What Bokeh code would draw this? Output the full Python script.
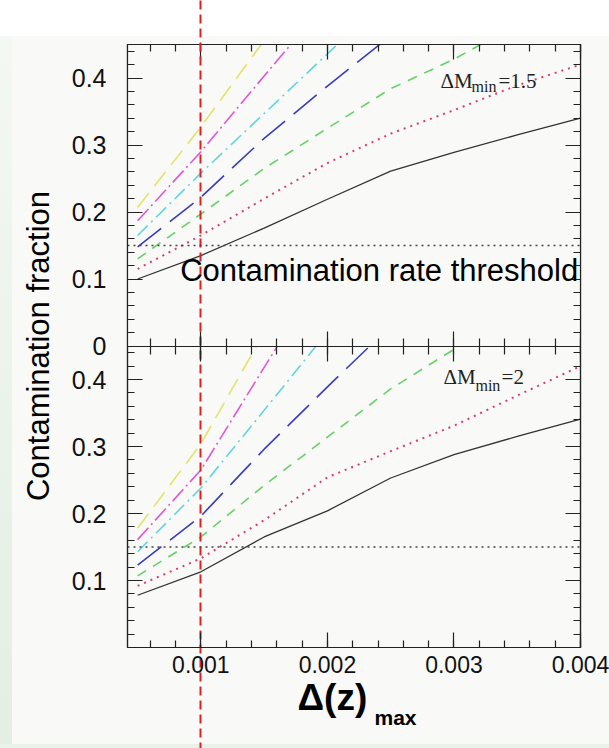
import numpy as np
from bokeh.plotting import figure
from bokeh.models import (Range1d, LinearAxis, FixedTicker, CustomJSTickFormatter,
                          Span, Label, Title)
from bokeh.embed import file_html
from bokeh.resources import INLINE

# ---------------- data ----------------
DZ_MAX = [0.0005, 0.001, 0.0015, 0.002, 0.0025, 0.003, 0.0035, 0.004]

# upper panel: dM_min = 1.5
TOP_BLACK   = [0.100, 0.135, 0.176, 0.219, 0.261, 0.289, 0.315, 0.340]
TOP_RED     = [0.115, 0.165, 0.220, 0.273, 0.317, 0.352, 0.389, 0.420]
TOP_GREEN   = [0.130, 0.197, 0.265, 0.325, 0.384, 0.428, 0.480]
TOP_BLUE    = [0.148, 0.222, 0.310, 0.388, 0.463]
TOP_CYAN    = [0.165, 0.258, 0.347, 0.436, 0.525]
TOP_MAGENTA = [0.187, 0.290, 0.403, 0.515]
TOP_YELLOW  = [0.207, 0.327, 0.456]

# lower panel: dM_min = 2
BOT_BLACK   = [0.078, 0.113, 0.165, 0.204, 0.253, 0.288, 0.315, 0.341]
BOT_RED     = [0.092, 0.133, 0.190, 0.254, 0.293, 0.331, 0.376, 0.420]
BOT_GREEN   = [0.107, 0.165, 0.242, 0.314, 0.386, 0.445, 0.490]
BOT_BLUE    = [0.123, 0.196, 0.296, 0.389, 0.480]
BOT_CYAN    = [0.143, 0.238, 0.354, 0.471]
BOT_MAGENTA = [0.161, 0.265, 0.418, 0.570]
BOT_YELLOW  = [0.178, 0.304, 0.470]

THRESHOLD = 0.15
REF_DZ = [0.001]

X_TICKS = [0.001, 0.002, 0.003, 0.004]
X_TICK_LABELS = ["0.001", "0.002", "0.003", "0.004"]
Y_TICKS_TOP = [0.0, 0.1, 0.2, 0.3, 0.4]
Y_LABELS_TOP = ["0", "0.1", "0.2", "0.3", "0.4"]
Y_TICKS_BOT = [0.1, 0.2, 0.3, 0.4]
Y_LABELS_BOT = ["0.1", "0.2", "0.3", "0.4"]

TOP_LABEL = ["ΔM", "min", "=1.5"]
BOT_LABEL = ["ΔM", "min", "=2"]
THRESH_TEXT = "Contamination rate threshold"
Y_TITLE = "Contamination fraction"
X_TITLE = ["Δ(z)", "max"]

# ---------------- styles ----------------
STYLES = [  # colour, dash, width
    ("#333333", "solid", 1.3),
    ("#d8406a", "2 5", 2.0),
    ("#66d166", "10 8", 1.6),
    ("#3b3bbf", "30 11", 1.6),
    ("#5fd6df", "14 5 2 5", 1.6),
    ("#e055d8", "16 4 2 4", 1.6),
    ("#e3e36b", "18 9", 1.6),
]
TOP_SERIES = [TOP_BLACK, TOP_RED, TOP_GREEN, TOP_BLUE, TOP_CYAN, TOP_MAGENTA, TOP_YELLOW]
BOT_SERIES = [BOT_BLACK, BOT_RED, BOT_GREEN, BOT_BLUE, BOT_CYAN, BOT_MAGENTA, BOT_YELLOW]

BG = "#f9f9f7"
AX = "#222222"
SANS = "Liberation Sans"
SERIF = "Liberation Serif"

XMIN, XMAX = 0.00042, 0.004
YMAX = 0.45
W, H = 609, 748
BORDER_TOP, BORDER_BOTTOM = 44, 101

p = figure(width=W, height=H,
           x_range=Range1d(XMIN, XMAX), y_range=Range1d(0, 2 * YMAX),
           x_axis_location=None, y_axis_location=None,
           toolbar_location=None, output_backend="svg",
           min_border_left=127, min_border_right=29,
           min_border_top=BORDER_TOP, min_border_bottom=BORDER_BOTTOM,
           background_fill_color=BG, border_fill_color=None,
           outline_line_color=AX, outline_line_width=1.2)
p.styles = {
    "background": ("linear-gradient(#ffffff,#ffffff) top / 100% 36px no-repeat, "
                   "linear-gradient(#e8f2e8,#e8f2e8) bottom / 100% 4px no-repeat, "
                   "linear-gradient(to bottom, #f4f8f4, #e2efe2) left / 12px 100% no-repeat, "
                   f"{BG}")
}
p.extra_y_ranges = {"top": Range1d(-YMAX, YMAX)}
p.grid.visible = False

# lower panel series (default range: 0..0.45 occupies lower half)
for ys, (c, d, w) in zip(BOT_SERIES, STYLES):
    p.line(DZ_MAX[:len(ys)], ys, line_color=c, line_dash=d, line_width=w)

# cover the upper half so the lower panel curves end at the panel border
p.varea(x=[XMIN, XMAX], y1=[YMAX, YMAX], y2=[2 * YMAX, 2 * YMAX], fill_color=BG)

# upper panel series
for ys, (c, d, w) in zip(TOP_SERIES, STYLES):
    p.line(DZ_MAX[:len(ys)], ys, line_color=c, line_dash=d, line_width=w,
           y_range_name="top")

# threshold lines
for rn in ("default", "top"):
    p.add_layout(Span(location=THRESHOLD, dimension="width", y_range_name=rn,
                      line_color="#444444", line_dash="2 4", line_width=1.3))

# ---------------- axes ----------------
blank = CustomJSTickFormatter(code="return ''")
x_minor = [round(v, 5) for v in np.arange(0.0006, 0.00401, 0.0002)]
y_major = Y_TICKS_TOP + [t - YMAX for t in Y_TICKS_BOT]
y_over = {t: l for t, l in zip(Y_TICKS_TOP, Y_LABELS_TOP)}
y_over.update({t - YMAX: l for t, l in zip(Y_TICKS_BOT, Y_LABELS_BOT)})
y_minor = [round(0.02 * k, 2) for k in range(0, 23)] + [round(0.02 * k - YMAX, 4) for k in range(0, 23)]


def style(ax, tin=15, tout=0, mtin=7, mtout=0):
    ax.axis_line_color = AX
    ax.axis_line_width = 1.2
    ax.major_tick_line_color = AX
    ax.minor_tick_line_color = AX
    ax.major_tick_line_width = 1.2
    ax.minor_tick_line_width = 1.2
    ax.major_tick_in = tin
    ax.major_tick_out = tout
    ax.minor_tick_in = mtin
    ax.minor_tick_out = mtout
    ax.major_label_text_font = SANS
    ax.major_label_text_color = "#111111"


left = LinearAxis(y_range_name="top",
                  ticker=FixedTicker(ticks=y_major, minor_ticks=y_minor),
                  major_label_overrides=y_over)
style(left)
left.major_label_text_font_size = "25px"
left.major_label_standoff = 21
left.axis_label = Y_TITLE
left.axis_label_text_font = SANS
left.axis_label_text_font_size = "31px"
left.axis_label_text_font_style = "normal"
left.axis_label_text_color = "#000000"
left.axis_label_standoff = 13
p.add_layout(left, "left")

right = LinearAxis(y_range_name="top",
                   ticker=FixedTicker(ticks=y_major, minor_ticks=y_minor),
                   formatter=blank)
style(right)
right.major_label_text_font_size = "0px"
right.major_label_standoff = 0
p.add_layout(right, "right")

x_ticker = FixedTicker(ticks=X_TICKS, minor_ticks=x_minor)
bottom = LinearAxis(ticker=x_ticker,
                    major_label_overrides={t: l for t, l in zip(X_TICKS, X_TICK_LABELS)})
style(bottom)
bottom.major_label_text_font_size = "23px"
bottom.major_label_standoff = 8
p.add_layout(bottom, "below")

middle = LinearAxis(ticker=x_ticker, formatter=blank, fixed_location=YMAX)
style(middle, tin=15, tout=15, mtin=8, mtout=8)
middle.major_label_text_font_size = "0px"
middle.major_label_standoff = 0
p.add_layout(middle, "below")

top_ax = LinearAxis(ticker=x_ticker, formatter=blank)
style(top_ax)
top_ax.major_label_text_font_size = "0px"
top_ax.major_label_standoff = 0
p.add_layout(top_ax, "above")

# x title "Δ(z)" with subscript "max", stacked under the tick labels
p.add_layout(Title(text=X_TITLE[0], align="left", offset=170, standoff=-2,
                   text_font=SANS, text_font_size="37px", text_font_style="bold",
                   text_color="#000000"), "below")
p.add_layout(Title(text=X_TITLE[1], align="left", offset=247, standoff=-25,
                   text_font=SANS, text_font_size="21px", text_font_style="bold",
                   text_color="#000000"), "below")

# reference line at dz = 0.001 across the whole page: one long tick of a
# label-less axis stacked above the frame
ref = LinearAxis(ticker=FixedTicker(ticks=REF_DZ), formatter=blank)
ref.axis_line_color = None
ref.minor_tick_line_color = None
ref.major_tick_line_color = "#e02020"
ref.major_tick_line_width = 2
ref.major_tick_line_dash = "9 5"
ref.major_tick_out = BORDER_TOP
ref.major_tick_in = H - BORDER_TOP
ref.major_label_text_font_size = "0px"
ref.major_label_standoff = 0
p.add_layout(ref, "above")

# ---------------- texts ----------------
p.add_layout(Label(x=0.000836, y=0.112, y_range_name="top", text=THRESH_TEXT,
                   text_font=SANS, text_font_size="31px", text_color="#000000",
                   text_baseline="alphabetic"))

for lab, rn, xs, ys in ((TOP_LABEL, "top", (0.002894, 0.003139, 0.003352), (0.396, 0.387, 0.396)),
                        (BOT_LABEL, "default", (0.002917, 0.003170, 0.003376), (0.403, 0.391, 0.403))):
    for txt, xx, yy, fs in zip(lab, xs, ys, ("21px", "16px", "21px")):
        p.add_layout(Label(x=xx, y=yy, y_range_name=rn, text=txt, text_font=SERIF,
                           text_font_size=fs, text_color="#222222",
                           text_baseline="alphabetic"))

open("out.html", "w").write(file_html(p, INLINE))
